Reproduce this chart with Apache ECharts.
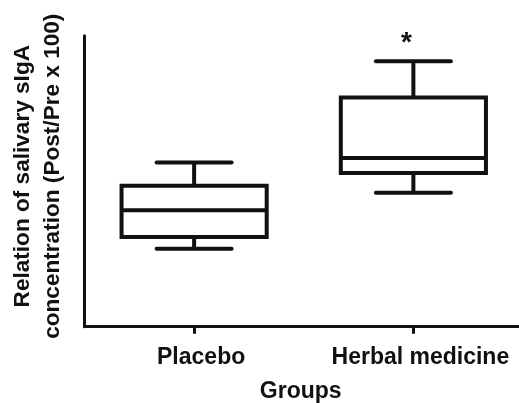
<!DOCTYPE html>
<html>
<head>
<meta charset="utf-8">
<script src="https://cdn.jsdelivr.net/npm/echarts@6/dist/echarts.min.js"></script>
<style>
  html, body { margin: 0; padding: 0; background: #fff; }
  #chart { width: 519px; height: 403px; }
</style>
</head>
<body>
<div id="chart"></div>
<script>
// Groups on the x axis
const categories = ['Placebo', 'Herbal medicine'];
// Box statistics per group: [lower whisker, Q1, median, Q3, upper whisker]
const placeboStats = [67, 77, 100, 121, 141];
const herbalStats = [115, 132, 145, 197, 228];
// Significance markers drawn above each group
const significance = ['', '*'];

const boxData = [placeboStats, herbalStats].map((s, i) => [i].concat(s));

const INK = '#111';
const FONT = '"Liberation Sans", Arial, sans-serif';

const chart = echarts.init(document.getElementById('chart'), null, { renderer: 'canvas' });

chart.setOption({
  animation: false,
  backgroundColor: '#fff',
  grid: { left: 84.5, right: -4, top: 35.7, bottom: 76.3, outerBoundsMode: 'none', containLabel: false },
  xAxis: {
    type: 'category',
    data: categories,
    boundaryGap: true,
    name: 'Groups',
    nameLocation: 'middle',
    nameGap: 53,
    nameTextStyle: { color: INK, fontFamily: FONT, fontWeight: 'bold', fontSize: 23, padding: [0, 6, 0, 0] },
    axisLine: { lineStyle: { color: INK, width: 3 } },
    axisTick: { show: true, alignWithLabel: true, interval: 0, length: 7, lineStyle: { color: INK, width: 3 } },
    axisLabel: { interval: 0, hideOverlap: false, color: INK, fontFamily: FONT, fontWeight: 'bold', fontSize: 23, margin: 19, padding: [0, 0, 0, 14] },
    splitLine: { show: false }
  },
  yAxis: {
    type: 'value',
    min: 0,
    max: 250,
    name: 'Relation of salivary sIgA\nconcentration (Post/Pre x 100)',
    nameLocation: 'middle',
    nameGap: 17,
    nameTextStyle: { color: INK, fontFamily: FONT, fontWeight: 'bold', fontSize: 22.6, lineHeight: 30, align: 'center', padding: [0, 0, 0, 10] },
    axisLine: { show: true, lineStyle: { color: INK, width: 3 } },
    axisTick: { show: false },
    axisLabel: { show: false },
    splitLine: { show: false }
  },
  series: [{
    type: 'custom',
    data: boxData,
    encode: { x: 0, y: [1, 2, 3, 4, 5] },
    renderItem: function (params, api) {
      const idx = api.value(0);
      const band = api.size([1, 0])[0];
      const halfBox = band * 0.331;
      const halfCap = band * 0.171;
      const lo = api.coord([idx, api.value(1)]);
      const q1 = api.coord([idx, api.value(2)]);
      const med = api.coord([idx, api.value(3)]);
      const q3 = api.coord([idx, api.value(4)]);
      const hi = api.coord([idx, api.value(5)]);
      const cx = lo[0];
      const stroke = { stroke: INK, lineWidth: 4, fill: null };
      const capStyle = { stroke: INK, lineWidth: 4, lineCap: 'round' };
      const children = [
        { type: 'line', shape: { x1: cx, y1: hi[1], x2: cx, y2: q3[1] }, style: stroke },
        { type: 'line', shape: { x1: cx, y1: q1[1], x2: cx, y2: lo[1] }, style: stroke },
        { type: 'line', shape: { x1: cx - halfCap, y1: hi[1], x2: cx + halfCap, y2: hi[1] }, style: capStyle },
        { type: 'line', shape: { x1: cx - halfCap, y1: lo[1], x2: cx + halfCap, y2: lo[1] }, style: capStyle },
        { type: 'rect', shape: { x: cx - halfBox, y: q3[1], width: 2 * halfBox, height: q1[1] - q3[1] },
          style: { stroke: INK, lineWidth: 4, fill: '#fff' } },
        { type: 'line', shape: { x1: cx - halfBox, y1: med[1], x2: cx + halfBox, y2: med[1] }, style: stroke }
      ];
      const mark = significance[params.dataIndex];
      if (mark) {
        children.push({
          type: 'text',
          style: {
            text: mark, x: cx - 7, y: hi[1] - 18,
            fill: INK, font: 'bold 28px ' + FONT,
            align: 'center', verticalAlign: 'middle'
          }
        });
      }
      return { type: 'group', children: children };
    }
  }]
});
</script>
</body>
</html>
